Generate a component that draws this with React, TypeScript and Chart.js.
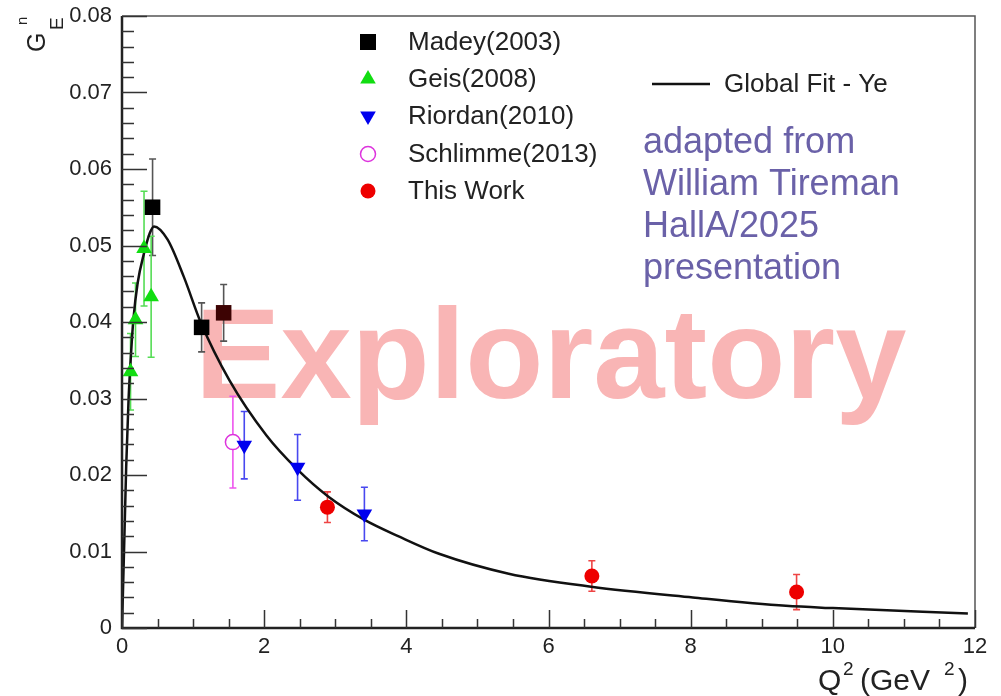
import React, { useEffect, useRef } from "react";
import { Chart, registerables } from "chart.js";

Chart.register(...registerables);

// ---- data ----
const madeyQ2 = [0.43, 1.12, 1.43];
const madeyGE = [0.055, 0.0393, 0.0412];
const madeyErr = [0.0063, 0.0032, 0.0037];

const geisQ2 = [0.12, 0.19, 0.31, 0.41];
const geisGE = [0.0335, 0.0403, 0.0496, 0.0433];
const geisErr = [0.005, 0.0048, 0.0075, 0.0079];

const riordanQ2 = [1.72, 2.47, 3.41];
const riordanGE = [0.0239, 0.021, 0.0149];
const riordanErr = [0.0044, 0.0043, 0.0035];

const schlimmeQ2 = [1.56];
const schlimmeGE = [0.0243];
const schlimmeErr = [0.006];

const thisWorkQ2 = [2.89, 6.61, 9.49];
const thisWorkGE = [0.0158, 0.0068, 0.0047];
const thisWorkErr = [0.002, 0.002, 0.0023];

const fitQ2 = [0, 0.035, 0.059, 0.092, 0.13, 0.16, 0.22, 0.31, 0.39, 0.45, 0.64, 0.87, 1.11, 1.51, 2.03, 2.47, 2.9, 3.4, 3.91, 4.46, 5.44, 6.6, 8.03, 9.34, 10.0, 11.9];
const fitGE = [0, 0.0124, 0.0211, 0.0298, 0.0363, 0.0403, 0.0451, 0.049, 0.0516, 0.0525, 0.0508, 0.0459, 0.0399, 0.0324, 0.0252, 0.0207, 0.0172, 0.0142, 0.0119, 0.0097, 0.0071, 0.0054, 0.004, 0.0029, 0.0026, 0.0019];

const xTickLabels = ["0", "2", "4", "6", "8", "10", "12"];
const yTickLabels = ["0", "0.01", "0.02", "0.03", "0.04", "0.05", "0.06", "0.07", "0.08"];

const legendNames = ["Madey(2003)", "Geis(2008)", "Riordan(2010)", "Schlimme(2013)", "This Work"];
const fitName = "Global Fit - Ye";
const noteLines = ["adapted from", "William Tireman", "HallA/2025", "presentation"];
const watermark = "Exploratory";

const FONT = '"Liberation Sans", Arial, Helvetica, sans-serif';
const TXT = "#222";

const pts = (xs: number[], ys: number[]) => xs.map((x, i) => ({ x, y: ys[i] }));

function drawMarker(ctx: CanvasRenderingContext2D, kind: string, x: number, y: number) {
  ctx.save();
  ctx.beginPath();
  if (kind === "rect") {
    ctx.fillStyle = "#000";
    ctx.fillRect(x - 8, y - 8, 16, 16);
  } else if (kind === "up") {
    const r = 9;
    ctx.fillStyle = "#11dd11";
    ctx.moveTo(x, y - r);
    ctx.lineTo(x + r * 0.866, y + r * 0.5);
    ctx.lineTo(x - r * 0.866, y + r * 0.5);
    ctx.closePath();
    ctx.fill();
  } else if (kind === "down") {
    const r = 9;
    ctx.fillStyle = "#0000ee";
    ctx.moveTo(x, y + r);
    ctx.lineTo(x + r * 0.866, y - r * 0.5);
    ctx.lineTo(x - r * 0.866, y - r * 0.5);
    ctx.closePath();
    ctx.fill();
  } else if (kind === "open") {
    ctx.strokeStyle = "#dd33dd";
    ctx.lineWidth = 1.5;
    ctx.arc(x, y, 7.5, 0, Math.PI * 2);
    ctx.stroke();
  } else {
    ctx.fillStyle = "#ee0000";
    ctx.arc(x, y, 7.5, 0, Math.PI * 2);
    ctx.fill();
  }
  ctx.restore();
}

const decorPlugin = {
  id: "decor",
  beforeDatasetsDraw(chart: any) {
    const ctx: CanvasRenderingContext2D = chart.ctx;
    const xs = chart.scales.x;
    const ys = chart.scales.y;
    // watermark
    ctx.save();
    ctx.font = `bold 128px ${FONT}`;
    ctx.fillStyle = "#f9b5b5";
    ctx.textAlign = "left";
    ctx.textBaseline = "alphabetic";
    ctx.fillText(watermark, 195, 398);
    ctx.restore();
    // error bars
    chart.data.datasets.forEach((ds: any) => {
      if (!ds.errs) return;
      ctx.save();
      ctx.strokeStyle = ds.errColor;
      ctx.lineWidth = 1.6;
      ds.data.forEach((p: any, i: number) => {
        const px = xs.getPixelForValue(p.x);
        const y1 = ys.getPixelForValue(p.y + ds.errs[i]);
        const y2 = ys.getPixelForValue(p.y - ds.errs[i]);
        ctx.beginPath();
        ctx.moveTo(px, y1);
        ctx.lineTo(px, y2);
        ctx.moveTo(px - 3.5, y1);
        ctx.lineTo(px + 3.5, y1);
        ctx.moveTo(px - 3.5, y2);
        ctx.lineTo(px + 3.5, y2);
        ctx.stroke();
      });
      ctx.restore();
    });
  },
  afterDraw(chart: any) {
    const ctx: CanvasRenderingContext2D = chart.ctx;
    const xs = chart.scales.x;
    const ys = chart.scales.y;
    const a = chart.chartArea;
    ctx.save();
    // frame
    ctx.strokeStyle = "#555";
    ctx.lineWidth = 1.5;
    ctx.beginPath();
    ctx.moveTo(a.left, a.top);
    ctx.lineTo(a.right, a.top);
    ctx.lineTo(a.right, a.bottom);
    ctx.stroke();
    ctx.strokeStyle = "#222";
    ctx.lineWidth = 2.5;
    ctx.beginPath();
    ctx.moveTo(a.left, a.top);
    ctx.lineTo(a.left, a.bottom);
    ctx.lineTo(a.right, a.bottom);
    ctx.stroke();
    // ticks inside
    ctx.lineWidth = 1.5;
    ctx.strokeStyle = "#333";
    ctx.beginPath();
    for (let k = 0; k <= 40; k++) {
      const v = k * 0.002;
      const py = Math.round(ys.getPixelForValue(v)) + 0.5;
      const len = k % 5 === 0 ? 25 : 12;
      ctx.moveTo(a.left, py);
      ctx.lineTo(a.left + len, py);
    }
    for (let k = 0; k <= 24; k++) {
      const v = k * 0.5;
      const px = Math.round(xs.getPixelForValue(v)) + 0.5;
      const len = k % 4 === 0 ? 18 : 9;
      ctx.moveTo(px, a.bottom);
      ctx.lineTo(px, a.bottom - len);
    }
    ctx.stroke();

    // legend
    const kinds = ["rect", "up", "down", "open", "fill"];
    const rows = [42, 79, 116, 154, 191];
    ctx.font = `26px ${FONT}`;
    ctx.fillStyle = TXT;
    ctx.textAlign = "left";
    ctx.textBaseline = "middle";
    legendNames.forEach((n, i) => {
      drawMarker(ctx, kinds[i], 368, rows[i]);
      ctx.fillStyle = TXT;
      ctx.fillText(n, 408, rows[i] + 1);
    });
    ctx.strokeStyle = "#111";
    ctx.lineWidth = 2.5;
    ctx.beginPath();
    ctx.moveTo(652, 84);
    ctx.lineTo(710, 84);
    ctx.stroke();
    ctx.fillText(fitName, 724, 85);

    // note
    ctx.font = `36px ${FONT}`;
    ctx.fillStyle = "#6a61a8";
    ctx.textBaseline = "alphabetic";
    noteLines.forEach((l, i) => ctx.fillText(l, 643, 153 + i * 42));

    // x title
    ctx.fillStyle = TXT;
    ctx.font = `30px ${FONT}`;
    ctx.fillText("Q", 818, 690);
    ctx.font = `19px ${FONT}`;
    ctx.fillText("2", 843, 675);
    ctx.font = `30px ${FONT}`;
    ctx.fillText("(GeV", 860, 690);
    ctx.font = `19px ${FONT}`;
    ctx.fillText("2", 944, 675);
    ctx.font = `30px ${FONT}`;
    ctx.fillText(")", 958, 690);

    // y title (rotated)
    ctx.translate(45, 52);
    ctx.rotate(-Math.PI / 2);
    ctx.font = `25px ${FONT}`;
    ctx.fillText("G", 0, 0);
    ctx.font = `19px ${FONT}`;
    ctx.fillText("E", 22, 18);
    ctx.font = `15px ${FONT}`;
    ctx.fillText("n", 27, -18);
    ctx.restore();
  },
};

export default function App() {
  const ref = useRef<HTMLCanvasElement | null>(null);
  useEffect(() => {
    if (!ref.current) return;
    const chart = new Chart(ref.current, {
      type: "scatter",
      data: {
        datasets: [
          {
            label: legendNames[0],
            data: pts(madeyQ2, madeyGE),
            pointStyle: "rect",
            pointRadius: 11,
            backgroundColor: ["#000", "#000", "#3d0303"],
            borderColor: ["#000", "#000", "#3d0303"],
            borderWidth: 0,
            order: 0,
            errs: madeyErr,
            errColor: "#555",
          } as any,
          {
            label: legendNames[1],
            data: pts(geisQ2, geisGE),
            pointStyle: "triangle",
            pointRadius: 9,
            backgroundColor: "#11dd11",
            borderWidth: 0,
            order: 0,
            errs: geisErr,
            errColor: "#55dd55",
          } as any,
          {
            label: legendNames[2],
            data: pts(riordanQ2, riordanGE),
            pointStyle: "triangle",
            rotation: 180,
            pointRadius: 9,
            backgroundColor: "#0000ee",
            borderWidth: 0,
            order: 0,
            errs: riordanErr,
            errColor: "#4848f0",
          } as any,
          {
            label: legendNames[3],
            data: pts(schlimmeQ2, schlimmeGE),
            pointStyle: "circle",
            pointRadius: 7.5,
            backgroundColor: "#ffffff",
            borderColor: "#dd33dd",
            borderWidth: 1.5,
            order: 0,
            errs: schlimmeErr,
            errColor: "#ee55ee",
          } as any,
          {
            label: legendNames[4],
            data: pts(thisWorkQ2, thisWorkGE),
            pointStyle: "circle",
            pointRadius: 7.5,
            backgroundColor: "#ee0000",
            borderWidth: 0,
            order: 0,
            errs: thisWorkErr,
            errColor: "#ee4444",
          } as any,
          {
            type: "line",
            label: fitName,
            data: pts(fitQ2, fitGE),
            showLine: true,
            borderColor: "#111",
            borderWidth: 2.5,
            pointRadius: 0,
            cubicInterpolationMode: "monotone",
            fill: false,
            order: 1,
          } as any,
        ],
      },
      options: {
        animation: false,
        responsive: false,
        devicePixelRatio: 1,
        layout: { padding: { top: 16, right: 26, left: 0, bottom: 0 } },
        plugins: { legend: { display: false }, tooltip: { enabled: false } },
        scales: {
          x: {
            type: "linear",
            min: 0,
            max: 12,
            afterFit: (s: any) => {
              s.height = 68;
              s.paddingLeft = 0;
              s.paddingRight = 0;
            },
            afterBuildTicks: (s: any) => {
              s.ticks = xTickLabels.map((t) => ({ value: parseFloat(t) }));
            },
            ticks: {
              callback: (_v: any, i: number) => xTickLabels[i],
              color: TXT,
              font: { size: 22, family: FONT },
              padding: 6,
              maxRotation: 0,
            },
            grid: { display: false, drawTicks: false },
            border: { display: false },
          },
          y: {
            type: "linear",
            min: 0,
            max: 0.08,
            afterFit: (s: any) => {
              s.width = 122;
              s.paddingTop = 0;
              s.paddingBottom = 0;
            },
            afterBuildTicks: (s: any) => {
              s.ticks = yTickLabels.map((t) => ({ value: parseFloat(t) }));
            },
            ticks: {
              callback: (_v: any, i: number) => yTickLabels[i],
              color: TXT,
              font: { size: 22, family: FONT },
              padding: 10,
            },
            grid: { display: false, drawTicks: false },
            border: { display: false },
          },
        },
      } as any,
      plugins: [decorPlugin],
    });
    return () => chart.destroy();
  }, []);
  return (
    <div style={{ position: "absolute", left: 0, top: 0, width: 1001, height: 696, background: "#fff" }}>
      <canvas ref={ref} width={1001} height={696} />
    </div>
  );
}
